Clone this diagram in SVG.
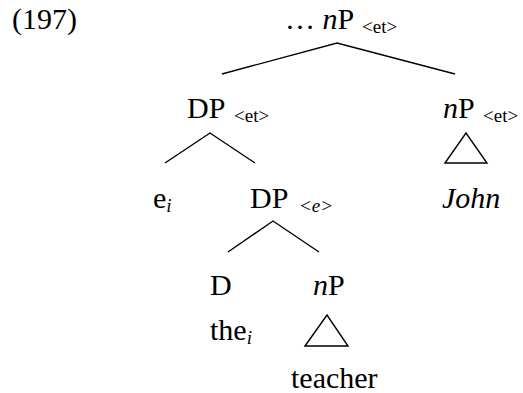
<svg xmlns="http://www.w3.org/2000/svg" width="523" height="393" viewBox="0 0 523 393">
<style>
text{font-family:"Liberation Serif","Times New Roman",serif;font-size:30px;fill:#000}
.s{font-size:19px}
.i{font-style:italic}
.e{stroke:#000;stroke-width:1.4;fill:none}
</style>
<rect width="523" height="393" fill="#fff"/>
<text x="12" y="29">(197)</text>
<g id="root"><text x="285" y="29">… <tspan class="i">n</tspan>P<tspan class="s" x="362" dy="4">&lt;et&gt;</tspan></text></g>
<g id="dp1"><text x="187" y="118">DP<tspan class="s" x="234" dy="4">&lt;et&gt;</tspan></text></g>
<g id="np1"><text x="443" y="118"><tspan class="i">n</tspan>P<tspan class="s" x="483" dy="4">&lt;et&gt;</tspan></text></g>
<g id="ei"><text x="153" y="208">e<tspan class="s i" dy="4">i</tspan></text></g>
<g id="dp2"><text x="250" y="208">DP<tspan class="s i" x="299" dy="4">&lt;e&gt;</tspan></text></g>
<g id="john"><text class="i" x="442" y="208">John</text></g>
<g id="d"><text x="210" y="295">D</text><text x="210" y="340">the<tspan class="s i" dy="4">i</tspan></text></g>
<g id="np2"><text x="313" y="295"><tspan class="i">n</tspan>P</text><text x="291" y="388">teacher</text></g>
<g id="edges">
<path class="e" d="M222 74L337 43L455 74"/>
<path class="e" d="M165 163L210 133L255 163"/>
<path class="e" d="M228 252L273 221L319 252"/>
<path class="e" d="M445 163L466 133L487 163Z"/>
<path class="e" d="M305 346L327 315L348 346Z"/>
</g>
</svg>
